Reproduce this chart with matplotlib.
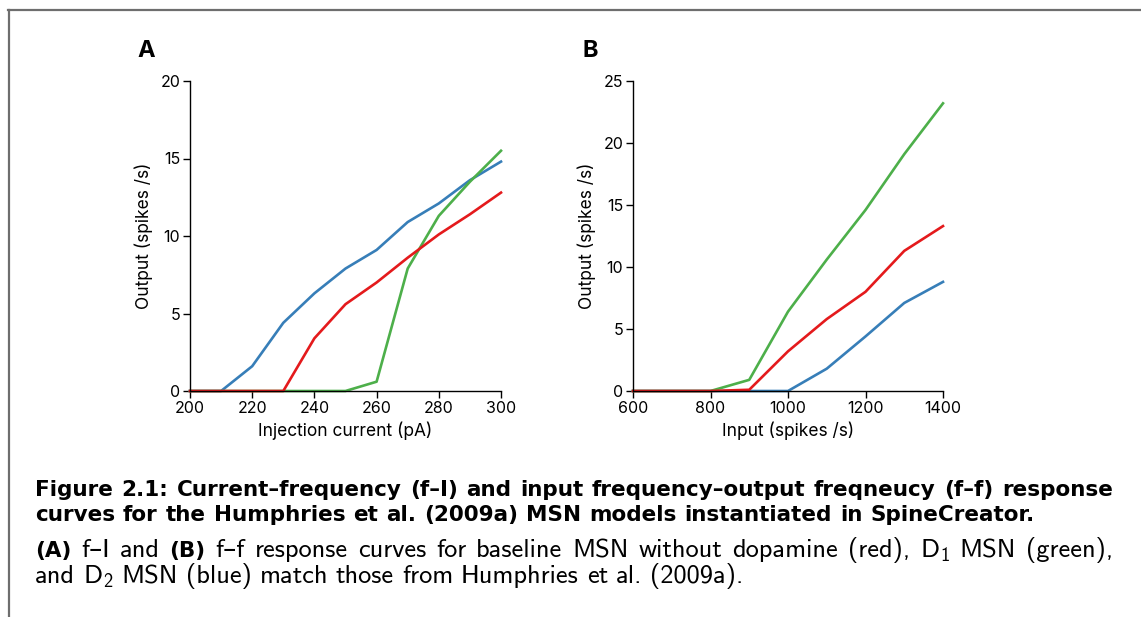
import matplotlib
matplotlib.use("Agg")
import matplotlib.pyplot as plt
from matplotlib.lines import Line2D

# f-I curves: injection current (pA) vs output rate (spikes/s)
current = [200, 210, 220, 230, 240, 250, 260, 270, 280, 290, 300]
fi_d2 = [0, 0, 1.6, 4.4, 6.3, 7.9, 9.1, 10.9, 12.1, 13.6, 14.8]
fi_d1 = [0, 0, 0, 0, 0, 0, 0.6, 7.9, 11.3, 13.5, 15.5]
fi_base = [0, 0, 0, 0, 3.4, 5.6, 7.0, 8.6, 10.1, 11.4, 12.8]

# f-f curves: input rate vs output rate (spikes/s)
rate_in = [600, 700, 800, 900, 1000, 1100, 1200, 1300, 1400]
ff_d2 = [0, 0, 0, 0, 0, 1.8, 4.4, 7.1, 8.8]
ff_d1 = [0, 0, 0, 0.9, 6.4, 10.6, 14.6, 19.1, 23.2]
ff_base = [0, 0, 0, 0.1, 3.2, 5.8, 8.0, 11.3, 13.3]

RED = "#e41a1c"
GREEN = "#4daf4a"
BLUE = "#377eb8"

W, H, DPI = 1141, 617, 100
plt.rcParams["font.family"] = ["Inter", "DejaVu Sans"]
plt.rcParams["mathtext.fontset"] = "custom"
plt.rcParams["mathtext.rm"] = "cmss10"
plt.rcParams["mathtext.it"] = "cmss10"

fig = plt.figure(figsize=(W / DPI, H / DPI), dpi=DPI)


def px_axes(left, top, right, bottom):
    return fig.add_axes([left / W, 1 - bottom / H, (right - left) / W, (bottom - top) / H])


def style(ax):
    for s in ["top", "right"]:
        ax.spines[s].set_visible(False)
    for s in ["left", "bottom"]:
        ax.spines[s].set_linewidth(1.0)
    ax.tick_params(direction="out", length=5, width=1.0, labelsize=11.5, pad=2)
    ax.set_ylabel("Output (spikes /s)", fontsize=12.5, labelpad=5)


axA = px_axes(190, 81, 501, 391)
for ys, c in [(fi_d2, BLUE), (fi_d1, GREEN), (fi_base, RED)]:
    axA.plot(current, ys, color=c, lw=1.9, clip_on=False)
axA.set_xlim(200, 300)
axA.set_ylim(0, 20)
axA.set_xticks(range(200, 301, 20))
axA.set_yticks(range(0, 21, 5))
axA.set_xlabel("Injection current (pA)", fontsize=12.5, labelpad=4)
style(axA)

axB = px_axes(633, 81, 943, 391)
for ys, c in [(ff_d2, BLUE), (ff_d1, GREEN), (ff_base, RED)]:
    axB.plot(rate_in, ys, color=c, lw=1.9, clip_on=False)
axB.set_xlim(600, 1400)
axB.set_ylim(0, 25)
axB.set_xticks(range(600, 1401, 200))
axB.set_yticks(range(0, 26, 5))
axB.set_xlabel("Input (spikes /s)", fontsize=12.5, labelpad=4)
style(axB)

fig.text(137 / W, 1 - 57 / H, "A", fontsize=17, fontweight="bold", va="baseline")
fig.text(582 / W, 1 - 57 / H, "B", fontsize=17, fontweight="bold", va="baseline")

# page frame
fig.add_artist(Line2D([8 / W, 1], [1 - 10 / H] * 2, color="#6e6e6e", lw=1.6))
fig.add_artist(Line2D([9 / W] * 2, [1 - 10 / H, 0], color="#6e6e6e", lw=1.6))

# caption, laid out word by word so full lines can be justified
renderer = fig.canvas.get_renderer()
REG_SIZE = 19
BOLD_SIZE = 15.5


def caption_line(words, base_y, x0, x1=None):
    arts = []
    for w, bold in words:
        if bold:
            t = fig.text(0, 1 - base_y / H, w, fontsize=BOLD_SIZE, fontweight="bold",
                         family=["DejaVu Sans"], va="baseline")
        else:
            t = fig.text(0, 1 - base_y / H, w, fontsize=REG_SIZE,
                         family=["cmss10", "DejaVu Sans"], va="baseline")
        arts.append(t)
    widths = [t.get_window_extent(renderer).width for t in arts]
    if x1 is None:
        gap = (0.37 * BOLD_SIZE if words[0][1] else 0.3 * REG_SIZE) * DPI / 72
    else:
        gap = (x1 - x0 - sum(widths)) / (len(arts) - 1)
    x = x0
    for t, w in zip(arts, widths):
        t.set_x(x / W)
        x += w + gap


def words_of(s, bold=False):
    return [(w, bold) for w in s.split(" ")]


caption_line(words_of("Figure 2.1: Current\u2013frequency (f\u2013I) and input frequency\u2013output "
                      "freqneucy (f\u2013f) response", True), 496, 35, 1113)
caption_line(words_of("curves for the Humphries et al. (2009a) MSN models instantiated in "
                      "SpineCreator.", True), 521, 35)
caption_line([("(A)", True)] + words_of("f\u2013I and") + [("(B)", True)]
             + words_of("f\u2013f response curves for baseline MSN without dopamine (red), "
                        "D$_1$ MSN (green),"), 557, 35, 1113)
caption_line(words_of("and D$_2$ MSN (blue) match those from Humphries et al. (2009a)."), 583, 35)

fig.savefig("out.png", dpi=DPI)
